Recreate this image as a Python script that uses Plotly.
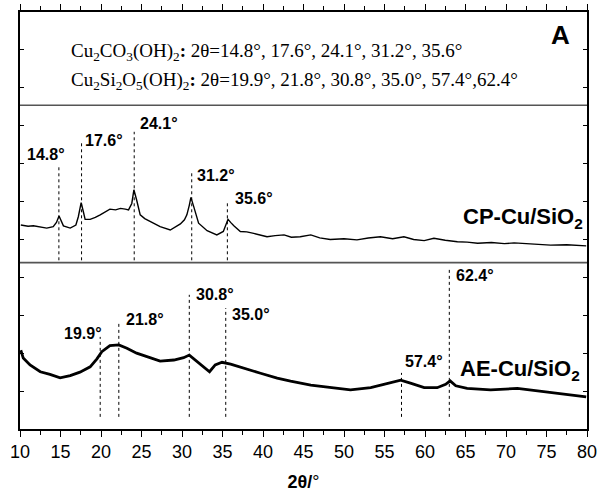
import plotly.graph_objects as go

# ---- data (2theta in degrees, intensity in axis units) ----
cp_x = [10.1, 11.0, 11.65, 12.5, 13.3, 14.1, 14.5, 14.82, 15.1, 15.36, 16.2, 16.9, 17.2, 17.55, 17.8,
        18.04, 18.66, 19.3, 19.9, 20.5, 21.1, 21.8, 22.4, 23.0, 23.4, 23.8, 24.06, 24.4, 24.84, 25.4,
        26.1, 27.3, 28.55, 29.8, 30.3, 30.6, 30.9, 31.1, 31.43, 31.7, 32.05, 33.1, 34.3, 35.1, 35.4,
        35.68, 36.0, 36.4, 37.2, 38.0, 38.85, 39.7, 40.5, 41.5, 42.6, 43.5, 44.6, 45.9, 47.0, 48.3,
        50.0, 51.6, 53.0, 54.5, 56.0, 57.4, 58.6, 59.9, 61.1, 62.5, 64.0, 65.2, 66.5, 68.2, 69.8,
        71.0, 72.2, 74.0, 75.5, 77.5, 79.9]
cp_y = [5.38, 5.35, 5.36, 5.32, 5.30, 5.34, 5.45, 5.62, 5.48, 5.36, 5.30, 5.38, 5.60, 5.97, 5.75,
        5.53, 5.53, 5.58, 5.65, 5.72, 5.80, 5.78, 5.82, 5.80, 5.78, 5.95, 6.31, 6.04, 5.65, 5.55,
        5.47, 5.34, 5.25, 5.41, 5.52, 5.65, 5.90, 6.11, 5.88, 5.65, 5.43, 5.23, 5.12, 5.21, 5.38,
        5.53, 5.45, 5.36, 5.21, 5.20, 5.16, 5.12, 5.07, 5.10, 5.12, 5.06, 5.07, 5.12, 5.04, 5.00,
        5.02, 4.99, 5.04, 5.07, 5.02, 5.07, 5.00, 4.97, 5.03, 4.98, 4.94, 4.93, 4.90, 4.92, 4.89,
        4.91, 4.89, 4.87, 4.85, 4.86, 4.83]

ae_x = [10.1, 10.4, 11.24, 12.5, 13.7, 14.95, 16.2, 17.4, 18.66, 19.5, 20.1, 21.1, 22.2, 23.2, 24.4,
        25.7, 27.3, 29.0, 30.2, 30.9, 31.85, 32.67, 33.4, 34.1, 34.94, 36.0, 37.6, 39.7, 41.75, 43.4,
        45.9, 48.3, 50.8, 53.3, 55.35, 57.0, 58.2, 59.9, 61.5, 62.55, 63.1, 63.8, 65.2, 68.1, 71.4,
        74.7, 77.6, 79.9]
ae_y = [2.08, 1.87, 1.69, 1.51, 1.44, 1.35, 1.41, 1.50, 1.64, 1.85, 2.04, 2.20, 2.22, 2.13, 2.00,
        1.91, 1.79, 1.82, 1.88, 1.95, 1.79, 1.64, 1.51, 1.69, 1.76, 1.71, 1.60, 1.47, 1.34, 1.26,
        1.16, 1.09, 1.03, 1.09, 1.21, 1.29, 1.21, 1.09, 1.09, 1.18, 1.27, 1.14, 1.07, 1.03, 1.07,
        0.98, 0.92, 0.85]

# peak markers: line position, line top, label text, label left x, label y
cp_peak_x = [14.8, 17.6, 24.1, 31.2, 35.6]
cp_peak_top = [6.97, 7.55, 7.84, 6.75, 5.99]
cp_peak_text = ["14.8°", "17.6°", "24.1°", "31.2°", "35.6°"]
cp_label_x = [10.62, 17.79, 24.59, 31.64, 36.34]
cp_label_y = [7.23, 7.60, 8.05, 6.68, 6.09]

ae_peak_x = [19.9, 22.2, 30.9, 35.4, 57.1, 63.0]
ae_peak_top = [2.43, 2.82, 3.54, 3.19, 1.48, 4.27]
ae_peak_text = ["19.9°", "21.8°", "30.8°", "35.0°", "57.4°", "62.4°"]
ae_label_x = [15.19, 22.86, 31.52, 35.97, 57.24, 63.55]
ae_label_y = [2.51, 2.88, 3.56, 3.01, 1.77, 4.04]

panel_separators = [8.54, 4.39]
x_ticks = list(range(10, 81, 5))

fig = go.Figure()
fig.add_trace(go.Scatter(x=cp_x, y=cp_y, mode="lines", line=dict(color="black", width=1.4),
                         showlegend=False, hoverinfo="skip"))
fig.add_trace(go.Scatter(x=ae_x, y=ae_y, mode="lines", line=dict(color="black", width=2.8),
                         showlegend=False, hoverinfo="skip"))

shapes = []
for yv in panel_separators:
    shapes.append(dict(type="line", xref="paper", x0=0, x1=1, yref="y", y0=yv, y1=yv,
                       line=dict(color="#555555", width=1.6)))
for xv, top in zip(cp_peak_x, cp_peak_top):
    shapes.append(dict(type="line", x0=xv, x1=xv, y0=4.45, y1=top,
                       line=dict(color="black", width=1, dash="dot")))
for xv, top in zip(ae_peak_x, ae_peak_top):
    shapes.append(dict(type="line", x0=xv, x1=xv, y0=0.32, y1=top,
                       line=dict(color="black", width=1, dash="dot")))

ann = []
peak_font = dict(family="Liberation Sans, Arial", size=16, color="black")
for t, lx, ly in zip(cp_peak_text + ae_peak_text, cp_label_x + ae_label_x, cp_label_y + ae_label_y):
    ann.append(dict(x=lx, y=ly, text="<b>" + t + "</b>", showarrow=False, xanchor="left",
                    yanchor="middle", font=peak_font))

serif = dict(family="Liberation Serif, Times New Roman", size=19, color="black")
ann.append(dict(x=16.06, y=9.95, xanchor="left", yanchor="middle", showarrow=False, font=serif,
                text="Cu<sub>2</sub>CO<sub>3</sub>(OH)<sub>2</sub><b>:</b> 2θ=14.8°, 17.6°, 24.1°, 31.2°, 35.6°"))
ann.append(dict(x=16.06, y=9.18, xanchor="left", yanchor="middle", showarrow=False, font=serif,
                text="Cu<sub>2</sub>Si<sub>2</sub>O<sub>5</sub>(OH)<sub>2</sub><b>:</b> 2θ=19.9°, 21.8°, 30.8°, 35.0°, 57.4°,62.4°"))
ann.append(dict(x=76.78, y=10.40, xanchor="center", yanchor="middle", showarrow=False,
                text="<b>A</b>", font=dict(family="Liberation Sans, Arial", size=26, color="black")))
sample_font = dict(family="Liberation Sans, Arial", size=22, color="black")
ann.append(dict(x=64.4, y=5.57, xanchor="left", yanchor="middle", showarrow=False,
                text="<b>CP-Cu/SiO<sub>2</sub></b>", font=sample_font))
ann.append(dict(x=64.04, y=1.56, xanchor="left", yanchor="middle", showarrow=False,
                text="<b>AE-Cu/SiO<sub>2</sub></b>", font=sample_font))

fig.update_layout(
    width=598, height=493,
    margin=dict(l=20, r=11, t=12, b=64, autoexpand=False),
    paper_bgcolor="white", plot_bgcolor="white",
    shapes=shapes, annotations=ann,
    xaxis=dict(range=[10, 80], tickmode="array", tickvals=x_ticks, ticks="outside", ticklen=6,
               tickwidth=1.2, tickcolor="black", showline=True, linecolor="black", linewidth=1.6,
               mirror="ticks", showgrid=False, zeroline=False, automargin=False,
               minor=dict(dtick=2.5, ticks="outside", ticklen=4, tickcolor="black", tickwidth=1.2),
               tickfont=dict(family="Liberation Sans, Arial", size=18, color="black"),
               title=dict(text="<b>2θ/</b>°", standoff=14,
                          font=dict(family="Liberation Sans, Arial", size=18, color="black"))),
    yaxis=dict(range=[0, 11], dtick=1, tick0=0, ticks="inside", ticklen=4, tickwidth=1.2,
               tickcolor="black", showticklabels=False, showline=True, linecolor="black",
               linewidth=1.6, mirror="ticks", showgrid=False, zeroline=False, automargin=False),
)

fig.write_html("out.html")
